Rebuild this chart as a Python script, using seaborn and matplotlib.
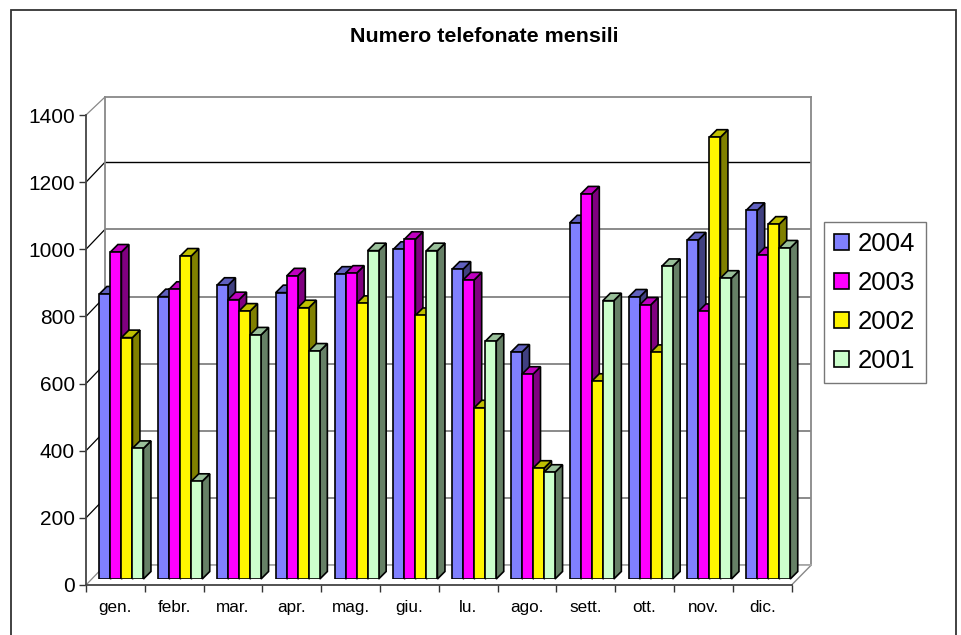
import numpy as np
import pandas as pd
import matplotlib
matplotlib.use("Agg")
import matplotlib.pyplot as plt
import seaborn as sns
from matplotlib.lines import Line2D
from matplotlib.patches import Polygon, Rectangle
from matplotlib.transforms import IdentityTransform

mesi = ['gen.', 'febr.', 'mar.', 'apr.', 'mag.', 'giu.', 'lu.', 'ago.', 'sett.', 'ott.', 'nov.', 'dic.']
anni = ['2004', '2003', '2002', '2001']
v2004 = [849, 841, 875, 853, 908, 982, 923, 676, 1061, 840, 1010, 1098]
v2003 = [974, 863, 832, 903, 911, 1012, 891, 610, 1147, 816, 797, 965]
v2002 = [719, 962, 798, 808, 821, 785, 510, 330, 589, 675, 1316, 1057]
v2001 = [389, 291, 727, 679, 978, 978, 708, 318, 829, 931, 896, 986]
colori = ['#8080FF', '#FF00FF', '#FFF500', '#CCFFCC']
y_ticks = [0, 200, 400, 600, 800, 1000, 1200, 1400]

W, H = 962, 635
DEPTH = 7.5  # profondita' delle barre in pixel
WALL_TOP = 1394  # la parete si ferma poco sotto il 1400

sns.set_style('white')
plt.rcParams['font.family'] = ['Liberation Sans', 'DejaVu Sans']
plt.rcParams['text.color'] = 'black'

df = pd.DataFrame({
    'mese': mesi * 4,
    'anno': np.repeat(anni, 12),
    'valore': v2004 + v2003 + v2002 + v2001,
})


def px_axes(fig, x0, y_top, x1, y_bottom):
    return fig.add_axes([x0 / W, 1 - y_bottom / H, (x1 - x0) / W, (y_bottom - y_top) / H])


def shade(col, f):
    rgb = np.array(matplotlib.colors.to_rgb(col)) * f
    return tuple(rgb)


fig = plt.figure(figsize=(W / 100, H / 100), dpi=100, facecolor='white')
fig.add_artist(Rectangle((11 / W, -0.1), 945 / W, 1.1 - 10 / H, transform=fig.transFigure,
                         facecolor='none', edgecolor='#333333', lw=1.3))
fig.text(484 / W, 1 - 36 / H, 'Numero telefonate mensili', ha='center', va='center',
         fontsize=15.4, fontweight='bold', color='black')

# parete di fondo
wall = px_axes(fig, 105, 97, 811, 565.3)
wall.set_xlim(0, 1)
wall.set_ylim(0, WALL_TOP)
wall.set_yticks(y_ticks[:-1])
wall.set_xticks([])
wall.tick_params(left=False, labelleft=False)
wall.grid(axis='y', color='#777777', lw=1.2)
wall.get_ygridlines()[6].set_color('black')
wall.get_ygridlines()[6].set_linewidth(1.0)
for s in wall.spines.values():
    s.set_color('#888888')
    s.set_linewidth(1.3)
wall.spines['bottom'].set_color('#aaaaaa')

# barre
bars = px_axes(fig, 92, 109, 797.6, 579)
sns.barplot(data=df, x='mese', y='valore', hue='anno', order=mesi, hue_order=anni,
            palette=colori, width=0.75, gap=0, saturation=1, edgecolor='black', linewidth=1.2,
            errorbar=None, ax=bars, legend=True)
handles, labels = bars.get_legend_handles_labels()
bars.get_legend().remove()
bars.set_xlim(-0.5, 11.5)
bars.set_ylim(0, 1400)
bars.patch.set_visible(False)
bars.set_axis_off()
dx = DEPTH / 705.6 * 12
dy = DEPTH / 470 * 1400
for i, cont in enumerate(bars.containers):
    col = colori[i]
    if i == 2:
        col = '#FFFF00'
    for m, p in enumerate(cont.patches):
        x, w, h = p.get_x(), p.get_width(), p.get_height()
        z = 3 + m + i * 0.1
        p.set_zorder(z + 0.05)
        side = Polygon([(x + w, 0), (x + w + dx, dy), (x + w + dx, h + dy), (x + w, h)],
                       facecolor=shade(col, 0.5), edgecolor='black', lw=1.2, zorder=z, clip_on=False)
        top = Polygon([(x, h), (x + dx, h + dy), (x + w + dx, h + dy), (x + w, h)],
                      facecolor=shade(col, 0.75), edgecolor='black', lw=1.2, zorder=z, clip_on=False)
        bars.add_patch(side)
        bars.add_patch(top)

# assi frontali
front = px_axes(fig, 86, 115, 791.6, 585)
front.patch.set_visible(False)
front.set_xlim(-0.5, 11.5)
front.set_ylim(0, 1400)
front.set_yticks(y_ticks)
front.set_yticklabels([str(t) for t in y_ticks], fontsize=15, color='black')
front.set_xticks(np.arange(13) - 0.5)
front.set_xticklabels([])
front.set_xticks(np.arange(12), labels=mesi, minor=True, fontsize=12.3, color='black')
front.tick_params(axis='y', which='major', left=True, length=5, width=1, color='#333333', pad=3)
front.tick_params(axis='x', which='major', bottom=True, length=5, width=1, color='#333333')
front.tick_params(axis='x', which='minor', bottom=False, length=0, pad=10.5)
for name in ['top', 'right']:
    front.spines[name].set_visible(False)
for name in ['left', 'bottom']:
    front.spines[name].set_color('#444444')
    front.spines[name].set_linewidth(1.3)

# diagonali tra assi frontali e parete
fig.canvas.draw()
for t in y_ticks:
    xa, ya = front.transData.transform((-0.5, t))
    xb, yb = wall.transData.transform((0, min(t, WALL_TOP)))
    col = '#888888' if t in (0, 1400) else 'black'
    wall.add_artist(Line2D([xa, xb], [ya, yb], color=col, lw=0.9, transform=IdentityTransform(), clip_on=False))
xa, ya = front.transData.transform((11.5, 0))
xb, yb = wall.transData.transform((1, 0))
wall.add_artist(Line2D([xa, xb], [ya, yb], color='#888888', lw=1.0, transform=IdentityTransform(), clip_on=False))

leg = fig.legend(handles, labels, loc='center left', bbox_to_anchor=(823.7 / W, 1 - 302.5 / H),
                 frameon=True, fancybox=False, framealpha=1, edgecolor='#777777', prop={'size': 18.5},
                 handlelength=0.58, handleheight=0.58, handletextpad=0.33, labelspacing=0.58,
                 borderpad=0.41, borderaxespad=0)
leg.get_frame().set_linewidth(1.0)

fig.savefig('out.png', dpi=100)
